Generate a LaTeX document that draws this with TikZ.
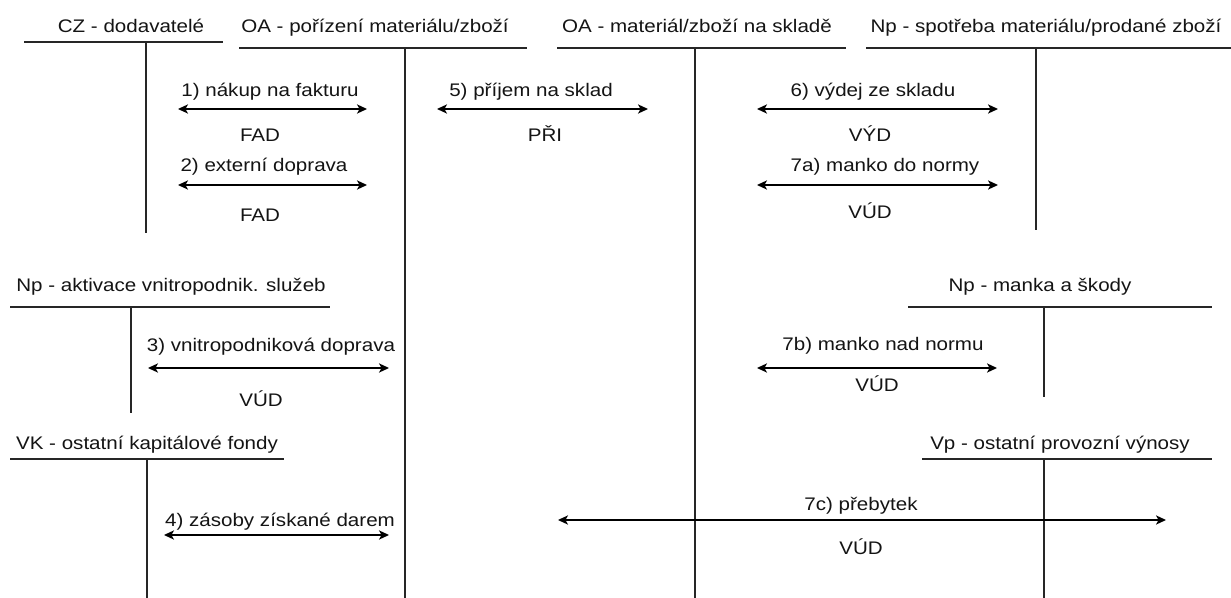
\documentclass[tikz,border=0pt]{standalone}
\usepackage{fontspec}
\setmainfont{Liberation Sans}[FakeStretch=1.13]
\usetikzlibrary{arrows.meta}
\begin{document}
\begin{tikzpicture}[x=0.5pt,y=-0.5pt,
  lbl/.style={anchor=base, inner sep=0pt, font=\fontsize{9.1}{10}\selectfont, text=black!92},
  acct/.style={line width=0.7pt, draw=black!85},
  tip/.tip={Stealth[length=5pt,width=4.6pt,inset=1.3pt]},
  flow/.style={line width=0.75pt, draw=black, tip-tip}]
\useasboundingbox[fill=white] (0,0) rectangle (1231,598);

% ---------- account headers ----------
\node[lbl] (cz)   at (131,33)  {CZ - dodavatelé};
\node[lbl] (oap)  at (375,33)  {OA - pořízení materiálu/zboží};
\node[lbl] (oam)  at (697,33)  {OA - materiál/zboží na skladě};
\node[lbl] (nps)  at (1046,33) {Np - spotřeba materiálu/prodané zboží};
\node[lbl] (npa)  at (171,292) {Np - aktivace vnitropodnik. služeb};
\node[lbl] (npm)  at (1040,292) {Np - manka a škody};
\node[lbl] (vk)   at (147,450) {VK - ostatní kapitálové fondy};
\node[lbl] (vp)   at (1060,450) {Vp - ostatní provozní výnosy};

% ---------- T-account lines ----------
\coordinate (czL) at (24,42);   \coordinate (czR) at (223,42);
\coordinate (czT) at (146,42);  \coordinate (czB) at (146,233);
\coordinate (oapL) at (239,48); \coordinate (oapR) at (527,48);
\coordinate (oapT) at (405,48); \coordinate (oapB) at (405,598);
\coordinate (oamL) at (557,48); \coordinate (oamR) at (846,48);
\coordinate (oamT) at (695,48); \coordinate (oamB) at (695,598);
\coordinate (npsL) at (866,48); \coordinate (npsR) at (1231,48);
\coordinate (npsT) at (1036,48); \coordinate (npsB) at (1036,230);
\coordinate (npaL) at (10,307); \coordinate (npaR) at (330,307);
\coordinate (npaT) at (131,307); \coordinate (npaB) at (131,413);
\coordinate (npmL) at (908,307); \coordinate (npmR) at (1212,307);
\coordinate (npmT) at (1044,307); \coordinate (npmB) at (1044,397);
\coordinate (vkL) at (10,459);  \coordinate (vkR) at (284,459);
\coordinate (vkT) at (147,459); \coordinate (vkB) at (147,598);
\coordinate (vpL) at (922,459); \coordinate (vpR) at (1212,459);
\coordinate (vpT) at (1044,459); \coordinate (vpB) at (1044,598);

\foreach \a in {cz,oap,oam,nps,npa,npm,vk,vp}{
  \draw[acct] (\a L) -- (\a R);
  \draw[acct] (\a T) -- (\a B);
}

% ---------- flows ----------
\coordinate (f1L) at (178,109); \coordinate (f1R) at (367,109);
\coordinate (f2L) at (178,185); \coordinate (f2R) at (367,185);
\coordinate (f5L) at (437,109); \coordinate (f5R) at (648,109);
\coordinate (f6L) at (757,109); \coordinate (f6R) at (998,109);
\coordinate (f7aL) at (757,185); \coordinate (f7aR) at (998,185);
\coordinate (f3L) at (148,368); \coordinate (f3R) at (389,368);
\coordinate (f7bL) at (757,368); \coordinate (f7bR) at (997,368);
\coordinate (f4L) at (164,535); \coordinate (f4R) at (389,535);
\coordinate (f7cL) at (558,520); \coordinate (f7cR) at (1166,520);

\foreach \f in {f1,f2,f5,f6,f7a,f3,f7b,f4,f7c}{
  \draw[flow] (\f L) -- (\f R);
}

% ---------- flow labels ----------
\node[lbl] (t1)  at (270,97)  {1) nákup na fakturu};
\node[lbl] (c1)  at (260,142) {FAD};
\node[lbl] (t2)  at (264,172) {2) externí doprava};
\node[lbl] (c2)  at (260,222) {FAD};
\node[lbl] (t5)  at (531,97)  {5) příjem na sklad};
\node[lbl] (c5)  at (545,142) {PŘI};
\node[lbl] (t6)  at (873,97)  {6) výdej ze skladu};
\node[lbl] (c6)  at (870,142) {VÝD};
\node[lbl] (t7a) at (885,172) {7a) manko do normy};
\node[lbl] (c7a) at (870,219) {VÚD};
\node[lbl] (t3)  at (271,352) {3) vnitropodniková doprava};
\node[lbl] (c3)  at (261,407) {VÚD};
\node[lbl] (t7b) at (883,351) {7b) manko nad normu};
\node[lbl] (c7b) at (877,392) {VÚD};
\node[lbl] (t4)  at (280,526) {4) zásoby získané darem};
\node[lbl] (t7c) at (861,510) {7c) přebytek};
\node[lbl] (c7c) at (861,554) {VÚD};
\end{tikzpicture}
\end{document}
